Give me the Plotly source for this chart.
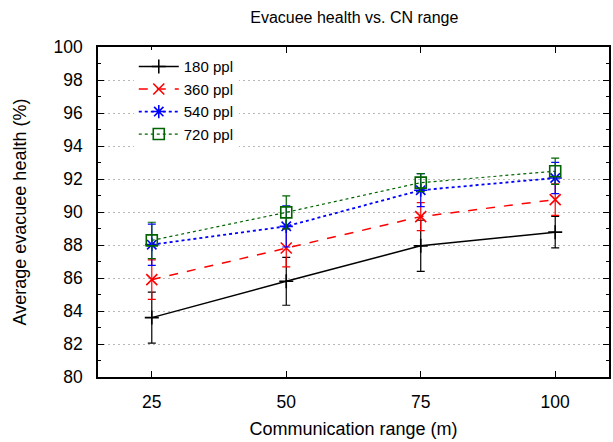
import plotly.graph_objects as go

# Communication range (m)
ranges = [25, 50, 75, 100]

# Average evacuee health (%) per crowd size, with error half-widths
health_180 = [83.6, 85.8, 87.95, 88.78]
err_180 = [1.55, 1.45, 1.55, 0.95]
health_360 = [85.9, 87.82, 89.72, 90.75]
err_360 = [1.2, 1.15, 0.85, 0.95]
health_540 = [88.02, 89.13, 91.32, 92.06]
err_540 = [1.25, 1.25, 1.0, 0.95]
health_720 = [88.28, 89.98, 91.78, 92.47]
err_720 = [1.1, 1.0, 0.55, 0.8]

labels = ["180 ppl", "360 ppl", "540 ppl", "720 ppl"]
series = [health_180, health_360, health_540, health_720]
errors = [err_180, err_360, err_540, err_720]
colors = ["#000000", "#ff0000", "#0000ff", "#006400"]
dashes = ["solid", "dash", "dot", "dot"]
widths = [1.5, 1.5, 1.8, 1.2]
symbols = ["cross-thin", "x-thin", "asterisk", "square-open"]
sizes = [10, 11, 11, 11]

FONT = "Liberation Sans, Arial, sans-serif"

fig = go.Figure()
for name, ys, es, c, d, w, s, sz in zip(labels, series, errors, colors, dashes, widths, symbols, sizes):
    fig.add_trace(go.Scatter(
        x=ranges, y=ys, name=name, mode="lines+markers",
        line=dict(color=c, dash=d, width=w),
        marker=dict(symbol=s, size=sz, color=c, line=dict(color=c, width=1.6)),
        error_y=dict(type="data", array=es, visible=True, color=c, thickness=1.2, width=4),
    ))

fig.update_layout(
    width=613, height=442,
    margin=dict(l=98, r=2, t=47, b=65),
    paper_bgcolor="white", plot_bgcolor="white",
    font=dict(family=FONT, size=17.5, color="black"),
    title=dict(text="Evacuee health vs. CN range", x=0.578, xanchor="center",
               y=0.96, yanchor="middle", font=dict(size=16)),
    showlegend=True,
    legend=dict(x=0.07, y=0.99, xanchor="left", yanchor="top",
                bgcolor="white", borderwidth=0, font=dict(size=15),
                tracegroupgap=0, itemwidth=40),
)

fig.update_xaxes(
    range=[15, 110], tickvals=ranges, ticktext=[str(r) for r in ranges],
    ticks="inside", ticklen=6, tickcolor="black", mirror="ticks",
    showline=True, linecolor="black", linewidth=1.5,
    showgrid=False, zeroline=False, ticklabelstandoff=8,
    title=dict(text="Communication range (m)", standoff=12, font=dict(size=18)),
)
fig.update_yaxes(
    range=[80, 100], dtick=2, tick0=80,
    ticks="inside", ticklen=6, tickcolor="black", mirror="ticks",
    showline=True, linecolor="black", linewidth=1.5,
    showgrid=True, gridcolor="#b8b8b8", griddash="2px,3px", gridwidth=1,
    zeroline=False, ticklabelstandoff=10,
    minor=dict(dtick=1, ticks="inside", ticklen=3, tickcolor="black", showgrid=False),
    title=dict(text="Average evacuee health (%)", standoff=22, font=dict(size=18)),
)

fig.write_html("out.html")
